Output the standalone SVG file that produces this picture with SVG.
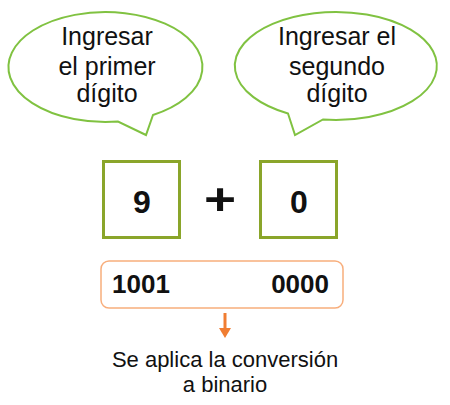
<svg xmlns="http://www.w3.org/2000/svg" width="450" height="405" viewBox="0 0 450 405">
<style>
.bubble{fill:#fff;stroke:#80c241;stroke-width:2;stroke-linejoin:miter}
.bt{font-family:"Liberation Sans",Arial,sans-serif;font-size:25px;fill:#111;text-anchor:middle}
.box{fill:#fff;stroke:#8aa52a;stroke-width:3}
.dig{font-family:"Liberation Sans",Arial,sans-serif;font-size:32px;font-weight:bold;fill:#111;text-anchor:middle}
.bin{font-family:"Liberation Sans",Arial,sans-serif;font-size:26px;font-weight:bold;fill:#111}
.cap{font-family:"Liberation Sans",Arial,sans-serif;font-size:22px;fill:#111;text-anchor:middle}
</style>
<rect width="450" height="405" fill="#fff"/>
<g id="bubble1">
<path class="bubble" d="M153,115 A97 55 0 1 0 118,121.6 L146,135 Z"/>
<text class="bt" x="107" y="45">Ingresar</text>
<text class="bt" x="107" y="75">el primer</text>
<text class="bt" x="107" y="102">dígito</text>
</g>
<g id="bubble2">
<path class="bubble" d="M288,113.5 A101 54 0 1 1 323,119.5 L295,135 Z"/>
<text class="bt" x="337" y="45">Ingresar el</text>
<text class="bt" x="337" y="75">segundo</text>
<text class="bt" x="337" y="102">dígito</text>
</g>
<g id="box9">
<rect class="box" x="103.5" y="161.5" width="76" height="76"/>
<text class="dig" x="142" y="213">9</text>
</g>
<g id="plus">
<text class="dig" x="0" y="0" style="font-size:44px" transform="translate(220,215) scale(1.25,1)">+</text>
</g>
<g id="box0">
<rect class="box" x="260.5" y="161.5" width="76" height="76"/>
<text class="dig" x="299" y="213">0</text>
</g>
<g id="binary">
<rect x="101" y="261" width="242" height="47" rx="8" fill="#fff" stroke="#f8ae7c" stroke-width="1.5"/>
<text class="bin" x="112" y="293">1001</text>
<text class="bin" x="329" y="293" text-anchor="end">0000</text>
</g>
<g id="connectors">
<line x1="225" y1="313" x2="225" y2="330" stroke="#f07d32" stroke-width="3"/>
<polygon points="219,328 231,328 225,338" fill="#f07d32"/>
</g>
<g id="caption">
<text class="cap" x="225" y="367">Se aplica la conversión</text>
<text class="cap" x="225" y="392">a binario</text>
</g>
</svg>
